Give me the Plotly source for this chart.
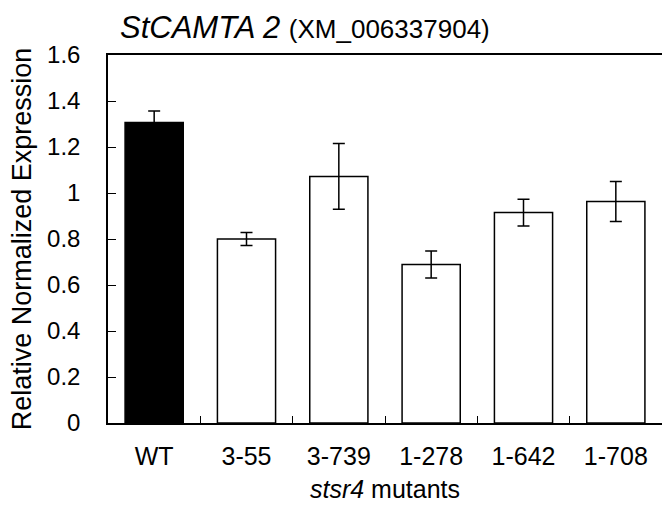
import plotly.graph_objects as go

categories = ["WT", "3-55", "3-739", "1-278", "1-642", "1-708"]
values = [1.306, 0.80, 1.072, 0.689, 0.915, 0.963]
errors = [0.05, 0.028, 0.143, 0.059, 0.058, 0.087]
fill_colors = ["#000000", "#ffffff", "#ffffff", "#ffffff", "#ffffff", "#ffffff"]
y_ticks = [0, 0.2, 0.4, 0.6, 0.8, 1, 1.2, 1.4, 1.6]
y_tick_text = ["0", "0.2", "0.4", "0.6", "0.8", "1", "1.2", "1.4", "1.6"]

FONT = "Arial, 'Liberation Sans', sans-serif"

fig = go.Figure()
fig.add_trace(go.Bar(
    x=categories,
    y=values,
    marker=dict(color=fill_colors, line=dict(color="#000000", width=1.5)),
    error_y=dict(type="data", array=errors, visible=True, color="#000000",
                 thickness=1.5, width=6),
    width=0.63,
    showlegend=False,
))

fig.update_layout(
    width=662, height=505,
    margin=dict(l=108, r=0, t=55, b=82, autoexpand=False),
    paper_bgcolor="white", plot_bgcolor="white",
    font=dict(family=FONT, size=25, color="#000000"),
    title=dict(
        text="<i>StCAMTA 2</i> <span style='font-size:26px'>(XM_006337904)</span>",
        font=dict(family=FONT, size=31, color="#000000"),
        x=120 / 662, xanchor="left", xref="container",
        y=1 - 27 / 505, yanchor="middle", yref="container",
    ),
    xaxis=dict(
        showline=True, linecolor="#000000", linewidth=1.5, mirror=True,
        ticks="inside", tickson="boundaries", ticklen=7, tickwidth=1,
        tickcolor="#000000", showgrid=False, automargin=False,
        tickfont=dict(size=25),
        ticklabelstandoff=10,
        title=dict(text="<i>stsr4</i> mutants", font=dict(size=25), standoff=12),
    ),
    yaxis=dict(
        range=[0, 1.6], tickvals=y_ticks, ticktext=y_tick_text,
        showline=True, linecolor="#000000", linewidth=1.5,
        ticks="inside", ticklen=8, tickwidth=1, tickcolor="#000000",
        showgrid=False, zeroline=False, automargin=False,
        tickfont=dict(size=24),
        ticklabelstandoff=21,
        title=dict(text="Relative Normalized Expression", font=dict(size=27), standoff=8),
    ),
)

fig.write_html("out.html", config={"displayModeBar": False},
               post_script="document.body.style.margin='0px';")
